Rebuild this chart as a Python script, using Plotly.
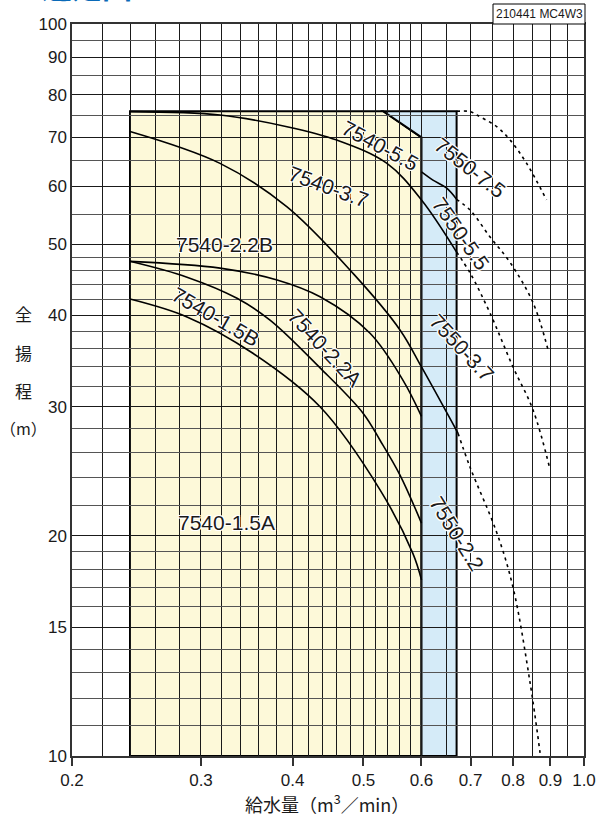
import plotly.graph_objects as go

W, H = 597, 819
ML, MR, MT, MB = 72, 13, 24, 63          # plot area: x 72..584, y 24..756
PW, PH = W - ML - MR, H - MT - MB

# ---------------- data ----------------
x_major = [0.2, 0.3, 0.4, 0.5, 0.6, 0.7, 0.8, 0.9, 1.0]
x_major_text = ["0.2", "0.3", "0.4", "0.5", "0.6", "0.7", "0.8", "0.9", "1.0"]
x_minor = [0.22, 0.24, 0.26, 0.28, 0.32, 0.34, 0.36, 0.38, 0.42, 0.44, 0.46,
           0.48, 0.52, 0.54, 0.56, 0.58, 0.65, 0.75, 0.85, 0.95]
y_major = [10, 15, 20, 30, 40, 50, 60, 70, 80, 90, 100]
y_major_text = ["10", "15", "20", "30", "40", "50", "60", "70", "80", "90", "100"]
y_minor = [11, 12, 13, 14, 16, 17, 18, 19, 22, 24, 26, 28, 32, 34, 36, 38,
           42, 44, 46, 48, 55, 65, 75, 85, 95]

# operating ranges
range_7540_x = [0.24, 0.24, 0.532, 0.6, 0.6]
range_7540_y = [10, 76, 76, 70, 10]
range_7550_x = [0.532, 0.67, 0.67, 0.6, 0.6]
range_7550_y = [76, 76, 10, 10, 70]

# curves (solid part, dotted extension)
c_top_dot_x = [0.67, 0.70, 0.714, 0.76, 0.793, 0.835, 0.889]
c_top_dot_y = [76, 75.9, 75.1, 72.4, 69.4, 64.5, 57.5]

c_b_x = [0.6, 0.622, 0.649, 0.67]
c_b_y = [62.8, 61.2, 59.7, 57.6]
c_b_dot_x = [0.67, 0.699, 0.744, 0.793, 0.852, 0.893]
c_b_dot_y = [57.6, 55.7, 51.2, 47.2, 41.6, 35.9]

c_1_x = [0.24, 0.3185, 0.3931, 0.46, 0.5383, 0.6, 0.67]
c_1_y = [75.9, 75.1, 72.4, 69.4, 64.5, 57.5, 48.8]
c_1_dot_x = [0.67, 0.699, 0.744, 0.800, 0.852, 0.899]
c_1_dot_y = [48.8, 45.7, 40.3, 34.0, 29.7, 24.6]

c_2_x = [0.24, 0.3185, 0.3928, 0.4842, 0.5608, 0.6, 0.673]
c_2_y = [71.3, 64.5, 56.3, 45.6, 38.2, 34.0, 27.6]
c_2_dot_x = [0.673, 0.699, 0.760, 0.800, 0.844, 0.871]
c_2_dot_y = [27.6, 24.8, 20.2, 17.0, 12.6, 10.1]

c_3_x = [0.24, 0.3185, 0.3811, 0.4362, 0.5104, 0.5662, 0.6]
c_3_y = [47.4, 46.4, 44.7, 42.4, 37.8, 32.6, 29.1]

c_4_x = [0.24, 0.2871, 0.336, 0.3727, 0.4362, 0.4993, 0.5267, 0.5608, 0.6]
c_4_y = [47.4, 45.1, 42.2, 39.4, 33.9, 29.4, 27.0, 24.2, 20.8]

c_5_x = [0.24, 0.2871, 0.3532, 0.4362, 0.5267, 0.5841, 0.6]
c_5_y = [42.1, 39.8, 35.5, 30.0, 23.1, 18.9, 17.4]

labels = ["7540-5.5", "7540-3.7", "7540-2.2B", "7540-2.2A", "7540-1.5B",
          "7540-1.5A", "7550-7.5", "7550-5.5", "7550-3.7", "7550-2.2"]
label_px = [(380, 145), (328, 187), (224, 245), (325, 347), (215, 317),
            (226, 522), (470, 167), (461, 233), (462, 347), (457, 533)]
label_angle = [28, 20, 0, 47, 30, 0, 38, 55, 47, 58]

# ---------------- figure ----------------
fig = go.Figure()

def path_from(xs, ys):
    s = "M %g %g" % (xs[0], ys[0])
    for x, y in zip(xs[1:], ys[1:]):
        s += " L %g %g" % (x, y)
    return s + " Z"

fig.add_shape(type="path", path=path_from(range_7540_x, range_7540_y),
              xref="x", yref="y", fillcolor="#fdf9d9",
              line=dict(color="black", width=2), layer="below")
fig.add_shape(type="path", path=path_from(range_7550_x, range_7550_y),
              xref="x", yref="y", fillcolor="#d5ebf8",
              line=dict(color="black", width=2), layer="below")

solid = dict(color="black", width=1.6)
dotted = dict(color="black", width=1.6, dash="3px,4px")

def add(xs, ys, line):
    fig.add_trace(go.Scatter(x=xs, y=ys, mode="lines",
                             line=dict(shape="spline", smoothing=1.0, **line),
                             hoverinfo="skip", showlegend=False))

add(c_top_dot_x, c_top_dot_y, dotted)
add(c_b_x, c_b_y, solid)
add(c_b_dot_x, c_b_dot_y, dotted)
add(c_1_x, c_1_y, solid)
add(c_1_dot_x, c_1_dot_y, dotted)
add(c_2_x, c_2_y, solid)
add(c_2_dot_x, c_2_dot_y, dotted)
add(c_3_x, c_3_y, solid)
add(c_4_x, c_4_y, solid)
add(c_5_x, c_5_y, solid)

NUM_FONT = "Liberation Sans, Arial, sans-serif"
JP_FONT = "Noto Sans CJK JP, sans-serif"

def px2paper(px, py):
    return (px - ML) / PW, (MT + PH - py) / PH

halo = "-1px -1px 0 #fff, 1px -1px 0 #fff, -1px 1px 0 #fff, 1px 1px 0 #fff"
for text, (px, py), ang in zip(labels, label_px, label_angle):
    xp, yp = px2paper(px, py)
    fig.add_annotation(x=xp, y=yp, xref="paper", yref="paper", text=text,
                       showarrow=False, textangle=ang, xanchor="center", yanchor="middle",
                       font=dict(family=NUM_FONT, size=21, color="#1a1a1a", shadow=halo))

# y-axis title (vertical, stacked)
for ch, py, sz in zip(["全", "揚", "程", "（m）"], [313, 352, 390, 428], [17, 17, 17, 16]):
    xp, yp = px2paper(23, py)
    fig.add_annotation(x=xp, y=yp, xref="paper", yref="paper", text=ch, showarrow=False,
                       xanchor="center", yanchor="middle",
                       font=dict(family=JP_FONT, size=sz, color="#1a1a1a"))

# x-axis title
xp, yp = px2paper(327, 803)
fig.add_annotation(x=xp, y=yp, xref="paper", yref="paper", text="給水量（m<sup>3</sup>／min）",
                   showarrow=False, xanchor="center", yanchor="middle",
                   font=dict(family=JP_FONT, size=18, color="#1a1a1a"))

# code box top right
x0p, y0p = px2paper(493, 4)
x1p, y1p = px2paper(585, 24)
fig.add_shape(type="rect", xref="paper", yref="paper", x0=x0p, x1=x1p, y0=y1p, y1=y0p,
              line=dict(color="black", width=1), fillcolor="white")
fig.add_annotation(x=(x0p + x1p) / 2, y=(y0p + y1p) / 2, xref="paper", yref="paper",
                   text="210441 MC4W3", showarrow=False, xanchor="center", yanchor="middle",
                   font=dict(family="Liberation Sans Narrow, Arial Narrow, sans-serif", size=12, color="#1a1a1a"))

# partially visible heading (cut by the top edge, as in the reference)
xp, yp = px2paper(10, 9)
fig.add_annotation(x=xp, y=yp, xref="paper", yref="paper", text="<b>■選定図</b>",
                   showarrow=False, xanchor="left", yanchor="bottom",
                   font=dict(family=JP_FONT, size=30, color="#0a6ab8"))

grid_dark = "#1a1a1a"
grid_light = "#555555"

fig.update_xaxes(type="log", range=[-0.69897, 0], tickmode="array", tickvals=x_major,
                 ticktext=x_major_text, ticks="outside", ticklen=8, tickwidth=1.5,
                 tickcolor="#333", showgrid=True, gridcolor=grid_dark, gridwidth=1,
                 showline=True, linecolor="#333", linewidth=1.5, mirror=True,
                 tickfont=dict(family=NUM_FONT, size=17, color="#1a1a1a"),
                 minor=dict(tickmode="array", tickvals=x_minor, showgrid=True,
                            gridcolor=grid_dark, gridwidth=1, ticks=""),
                 zeroline=False, fixedrange=True)
fig.update_yaxes(type="log", range=[1, 2], tickmode="array", tickvals=y_major,
                 ticktext=y_major_text, ticks="", showgrid=True, gridcolor=grid_dark,
                 gridwidth=1, showline=True, linecolor="#333", linewidth=1.5, mirror=True,
                 tickfont=dict(family=NUM_FONT, size=17, color="#1a1a1a"),
                 minor=dict(tickmode="array", tickvals=y_minor, showgrid=True,
                            gridcolor=grid_light, gridwidth=1, ticks=""),
                 zeroline=False, fixedrange=True)

fig.update_layout(width=W, height=H, margin=dict(l=ML, r=MR, t=MT, b=MB, autoexpand=False),
                  paper_bgcolor="white", plot_bgcolor="white", showlegend=False)

fig.write_html("out.html", config={"displayModeBar": False},
               post_script="document.body.style.margin='0';document.body.style.overflow='hidden';")
